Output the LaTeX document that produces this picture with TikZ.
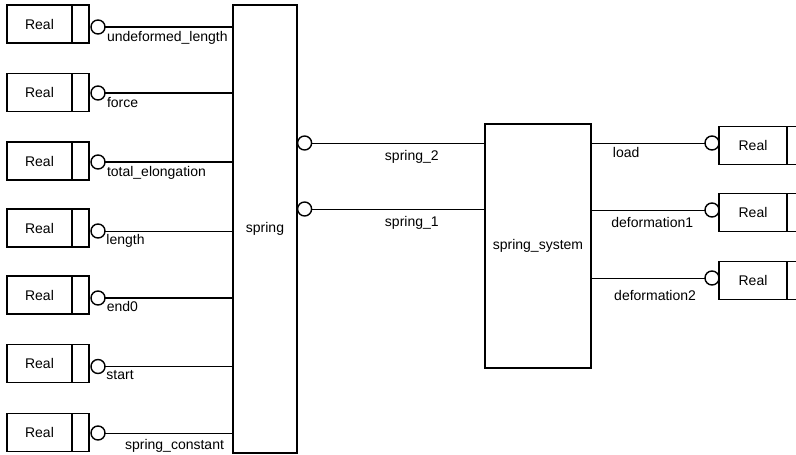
\documentclass[tikz,border=0pt]{standalone}
\usepackage{fontspec}
\setmainfont{Liberation Sans}
\usetikzlibrary{positioning}

\begin{document}
\begin{tikzpicture}[
  x=1pt, y=-1pt,
  font=\fontsize{14}{16}\selectfont,
  realbox/.style={rectangle, draw, line width=1.2pt, outer sep=0pt,
    minimum width=65pt, minimum height=38pt, inner sep=0pt},
  realtail/.style={rectangle, draw, line width=1.2pt, outer sep=0pt,
    minimum width=17pt, minimum height=38pt, inner sep=0pt},
  block/.style={rectangle, draw, line width=1.2pt, inner sep=0pt},
  port/.style={circle, draw, line width=1.4pt, outer sep=0pt,
    minimum size=14pt, inner sep=0pt, fill=white},
  wire/.style={line width=0.9pt},
  heavy/.style={line width=2pt},
  lbl/.style={inner sep=1pt}
]
\useasboundingbox (0,0) rectangle (796,455);

% Main blocks
\node[block, minimum width=64pt, minimum height=448pt] (spring) at (265,229) {spring};
\node[block, minimum width=106pt, minimum height=244pt] (sys) at (538,246) {spring\_system};

% Left inputs of spring
\node[realbox] (r1) at (39.5,24) {Real};
\node[realtail, right=0pt of r1] (r1t) {};
\node[port, right=2pt of r1t, yshift=-3pt] (p1) {};
\node[realbox] (r2) at (39.5,92.5) {Real};
\node[realtail, right=0pt of r2] (r2t) {};
\node[port, right=2pt of r2t, yshift=-0.5pt] (p2) {};
\node[realbox] (r3) at (39.5,161) {Real};
\node[realtail, right=0pt of r3] (r3t) {};
\node[port, right=2pt of r3t, yshift=-1pt] (p3) {};
\node[realbox] (r4) at (39.5,228) {Real};
\node[realtail, right=0pt of r4] (r4t) {};
\node[port, right=2pt of r4t, yshift=-3pt] (p4) {};
\node[realbox] (r5) at (39.5,295) {Real};
\node[realtail, right=0pt of r5] (r5t) {};
\node[port, right=2pt of r5t, yshift=-3pt] (p5) {};
\node[realbox] (r6) at (39.5,363.5) {Real};
\node[realtail, right=0pt of r6] (r6t) {};
\node[port, right=2pt of r6t, yshift=-3pt] (p6) {};
\node[realbox] (r7) at (39.5,432.5) {Real};
\node[realtail, right=0pt of r7] (r7t) {};
\node[port, right=2pt of r7t, yshift=-0.5pt] (p7) {};

\draw[heavy] (p1) -- node[lbl, pos=0, anchor=north west, yshift=-2pt] {undeformed\_length} (p1 -| spring.west);
\draw[heavy] (p2) -- node[lbl, pos=0, anchor=north west, yshift=-2pt] {force} (p2 -| spring.west);
\draw[heavy] (p3) -- node[lbl, pos=0, anchor=north west, yshift=-2pt] {total\_elongation} (p3 -| spring.west);
\draw[wire] (p4) -- node[lbl, pos=0, anchor=north west, yshift=-2pt] {length} (p4 -| spring.west);
\draw[line width=1.6pt] (p5) -- node[lbl, pos=0, anchor=north west, yshift=-2pt] {end0} (p5 -| spring.west);
\draw[wire] (p6) -- node[lbl, pos=0, anchor=north west, yshift=-2pt] {start} (p6 -| spring.west);
\draw[wire] (p7) -- node[lbl, pos=1, anchor=north east, xshift=-7pt, yshift=-5pt] {spring\_constant} (p7 -| spring.west);

% Spring ports to spring_system
\node[port, anchor=west] (s2) at ([yshift=86pt]spring.east) {};
\node[port, anchor=west] (s1) at ([yshift=20pt]spring.east) {};
\draw[wire] (s2) -- node[lbl, pos=0.58, below=6pt] {spring\_2} (s2 -| sys.west);
\draw[wire] (s1) -- node[lbl, pos=0.58, below=6pt] {spring\_1} (s1 -| sys.west);

% Outputs of spring_system
\node[port] (o1) at (712,143) {};
\node[realbox, minimum width=68pt, right=0pt of o1, yshift=-2.5pt] (q1) {Real};
\node[realtail, right=0pt of q1] (q1t) {};
\node[port] (o2) at (712,210) {};
\node[realbox, minimum width=68pt, right=0pt of o2, yshift=-2.5pt] (q2) {Real};
\node[realtail, right=0pt of q2] (q2t) {};
\node[port] (o3) at (712,278) {};
\node[realbox, minimum width=68pt, right=0pt of o3, yshift=-2.5pt] (q3) {Real};
\node[realtail, right=0pt of q3] (q3t) {};

\draw[wire] (o1 -| sys.east) -- node[lbl, pos=0.175, anchor=north west, yshift=-3pt] {load} (o1);
\draw[wire] (o2 -| sys.east) -- node[lbl, pos=0.535, anchor=north, yshift=-6pt] {deformation1} (o2);
\draw[wire] (o3 -| sys.east) -- node[lbl, pos=0.56, anchor=north, yshift=-11pt] {deformation2} (o3);

\end{tikzpicture}
\end{document}
